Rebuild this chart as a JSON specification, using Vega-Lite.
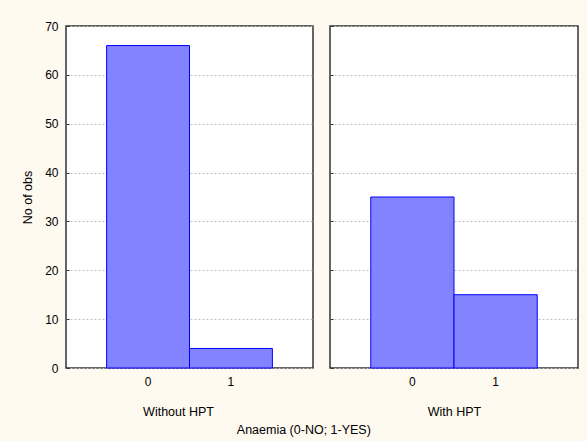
{
  "$schema": "https://vega.github.io/schema/vega-lite/v6.json",
  "background": "#FFFAF0",
  "padding": {"left": 20, "top": 19, "right": 9, "bottom": 4},
  "config": {
    "font": "Liberation Sans",
    "view": {"fill": "white", "stroke": "#333333", "strokeWidth": 1.5},
    "axis": {
      "labelFont": "Liberation Sans",
      "labelFontSize": 12,
      "labelColor": "black",
      "titleFont": "Liberation Sans",
      "titleFontSize": 12.5,
      "titleFontWeight": "normal",
      "titleColor": "black",
      "domain": false,
      "tickColor": "#333333",
      "gridColor": "#c0c0c0",
      "gridDash": [2, 2]
    },
    "concat": {"spacing": 14}
  },
  "datasets": {
    "obs": [
      {"group": "Without HPT", "anaemia": "0", "count": 66},
      {"group": "Without HPT", "anaemia": "1", "count": 4},
      {"group": "With HPT", "anaemia": "0", "count": 35},
      {"group": "With HPT", "anaemia": "1", "count": 15}
    ]
  },
  "title": {
    "text": "Anaemia (0-NO; 1-YES)",
    "orient": "bottom",
    "anchor": "middle",
    "font": "Liberation Sans",
    "fontSize": 12.5,
    "fontWeight": "normal",
    "color": "black",
    "offset": 6,
    "dx": 4
  },
  "hconcat": [
    {
      "width": 247,
      "height": 342,
      "data": {"name": "obs"},
      "transform": [{"filter": "datum.group === 'Without HPT'"}],
      "mark": {"type": "bar", "fill": "#8383ff", "stroke": "#0000ff", "strokeWidth": 1},
      "encoding": {
        "x": {
          "field": "anaemia",
          "type": "ordinal",
          "scale": {"paddingInner": 0, "paddingOuter": 0.49},
          "axis": {"title": "Without HPT", "labelAngle": 0, "ticks": false, "labelPadding": 8, "titlePadding": 18, "titleX": 112, "grid": false}
        },
        "y": {
          "field": "count",
          "type": "quantitative",
          "scale": {"domain": [0, 70], "nice": false},
          "axis": {"title": "No of obs", "values": [0, 10, 20, 30, 40, 50, 60, 70], "tickSize": -3, "labelPadding": 11, "titlePadding": 10, "grid": true}
        }
      }
    },
    {
      "width": 248,
      "height": 342,
      "data": {"name": "obs"},
      "transform": [{"filter": "datum.group === 'With HPT'"}],
      "mark": {"type": "bar", "fill": "#8383ff", "stroke": "#0000ff", "strokeWidth": 1},
      "encoding": {
        "x": {
          "field": "anaemia",
          "type": "ordinal",
          "scale": {"paddingInner": 0, "paddingOuter": 0.49},
          "axis": {"title": "With HPT", "labelAngle": 0, "ticks": false, "labelPadding": 8, "titlePadding": 18, "grid": false}
        },
        "y": {
          "field": "count",
          "type": "quantitative",
          "scale": {"domain": [0, 70], "nice": false},
          "axis": {"title": null, "labels": false, "values": [0, 10, 20, 30, 40, 50, 60, 70], "tickSize": -3, "grid": true}
        }
      }
    }
  ]
}
